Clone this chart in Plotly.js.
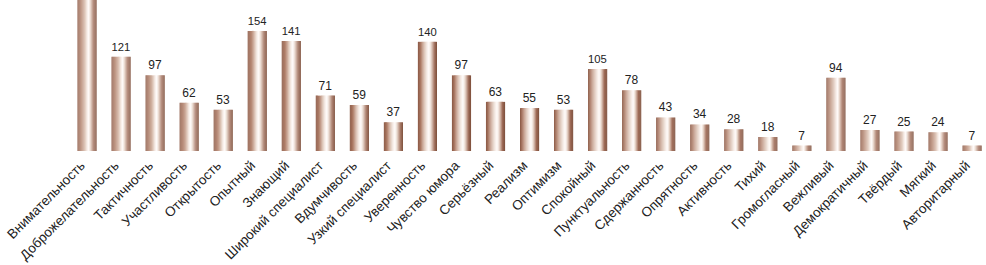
<!DOCTYPE html>
<html>
<head>
<meta charset="utf-8">
<script src="https://cdn.plot.ly/plotly-3.0.1.min.js"></script>
<style>html,body{margin:0;padding:0;background:#fff;}#chart{width:986px;height:265px;}</style>
</head>
<body>
<div id="chart"></div>
<script>
const categories = ["Внимательность","Доброжелательность","Тактичность","Участливость","Открытость","Опытный","Знающий","Широкий специалист","Вдумчивость","Узкий специалист","Уверенность","Чувство юмора","Серьёзный","Реализм","Оптимизм","Спокойный","Пунктуальность","Сдержанность","Опрятность","Активность","Тихий","Громогласный","Вежливый","Демократичный","Твёрдый","Мягкий","Авторитарный"];
const values = [200,121,97,62,53,154,141,71,59,37,140,97,63,55,53,105,78,43,34,28,18,7,94,27,25,24,7];
const valueLabels = ["",  "121","97","62","53","154","141","71","59","37","140","97","63","55","53","105","78","43","34","28","18","7","94","27","25","24","7"];

// cylinder-like shading stops (position, rgb)
const stops = [[0,[138,88,68]],[0.15,[172,122,100]],[0.35,[216,188,173]],[0.5,[246,236,230]],[0.6,[255,252,250]],[0.7,[226,205,193]],[0.85,[160,108,88]],[1,[125,78,58]]];
function shade(t){
  for(let i=0;i<stops.length-1;i++){
    const a=stops[i], b=stops[i+1];
    if(t>=a[0] && t<=b[0]){
      const f=(t-a[0])/(b[0]-a[0]);
      const c=a[1].map((v,k)=>Math.round(v+(b[1][k]-v)*f));
      return 'rgb('+c.join(',')+')';
    }
  }
  return 'rgb(125,78,58)';
}
const W = 0.56, N = 18;
const traces = [];
for(let i=0;i<N;i++){
  traces.push({
    type:'bar', x:categories, y:values,
    width:W/N*1.08, offset:-W/2 + i*W/N,
    marker:{color:shade((i+0.5)/N), line:{width:0}},
    hoverinfo:'skip', cliponaxis:true
  });
}
traces.push({
  type:'bar', x:categories, y:values, width:W,
  marker:{color:'rgba(0,0,0,0)', line:{width:0}},
  text:valueLabels, textposition:'outside', cliponaxis:true,
  textfont:{family:'"Liberation Sans", Arial, sans-serif', size:12, color:'#222'},
  hoverinfo:'skip'
});
const layout = {
  width:986, height:265,
  margin:{l:0,r:0,t:0,b:114,pad:0},
  paper_bgcolor:'#fff', plot_bgcolor:'#fff',
  barmode:'overlay', showlegend:false,
  xaxis:{type:'category', range:[-2.556,26.41], tickangle:-45, showgrid:false, zeroline:false, showline:false, ticks:'',
         ticklabelshift:-6, ticklabelstandoff:3,
         tickfont:{family:'"Liberation Sans", Arial, sans-serif', size:13.5, color:'#222'}},
  yaxis:{visible:false, range:[0,193.6], showgrid:false, zeroline:false},
  hovermode:false
};
Plotly.newPlot('chart', traces, layout, {displayModeBar:false, staticPlot:true});
</script>
</body>
</html>
